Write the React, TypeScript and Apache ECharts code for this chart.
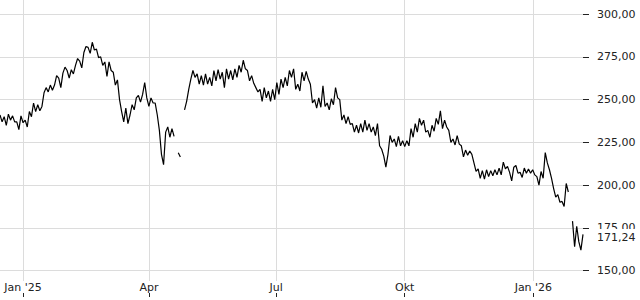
import React, { useEffect, useRef } from "react";
import * as echarts from "echarts";

// Price samples every 36 hours starting 2024-12-15 12:00 (null = break in the line)
const START = Date.UTC(2024, 11, 15, 12);
const STEP_MS = 36 * 3600 * 1000;
const prices: (number | null)[] = [
  241, 237, 240, 235, 241.5, 238, 240.5, 237, 237, 232.5,
  240.5, 236.5, 238, 234, 243, 240, 248, 243, 247, 243.5,
  246, 254, 257, 254.5, 258.5, 255.5, 258.5, 264, 262.5, 257,
  265.5, 269, 267, 262.5, 267.5, 265, 270, 274, 272.5, 268.5,
  277.5, 281, 280.5, 277, 283.5, 279, 279.5, 274.5, 275, 270,
  272, 263.5, 272, 267, 266, 258.5, 261.5, 250, 243, 237,
  245, 236, 241, 247, 244, 251, 252.5, 248.5, 253, 260,
  251, 246, 251, 248, 248, 241, 232, 218, 212, 231,
  234, 228, 233, 228.5, null, 219, 216.5, null, 244, 249,
  256, 262, 267, 263, 265, 259, 264, 258.5, 265, 259,
  263, 258, 267, 261, 267.5, 262, 266, 257, 268, 262,
  267, 261.5, 268, 263, 270, 266, 273, 268, 267, 261,
  264, 259.5, 257, 254.5, 256, 249, 257, 251, 255, 249,
  256, 250, 260, 253, 262, 257, 263, 258, 267, 263,
  268, 256, 259, 255, 266, 261, 266.5, 262, 259, 248,
  250, 245, 251, 245.5, 258, 246, 248, 244, 250.5, 247,
  257, 251, 250, 238, 241, 236, 240, 235.5, 236, 231,
  235, 230.5, 236, 231, 238, 232, 236, 231, 234, 229,
  236, 223, 221, 217, 210.5, 218, 229, 225, 227, 222.5,
  228.5, 223, 226, 222.5, 226, 223, 233, 228, 236, 231,
  239, 235, 238, 231, 232, 228, 235, 231.5, 239, 235.5,
  243.5, 233, 238, 234, 232, 225, 227, 223.5, 229, 224,
  223, 216.5, 220.5, 217.5, 220, 218, 213, 208, 209.5, 204,
  208.5, 203.5, 209, 205, 208.5, 205.5, 209, 206, 210, 206,
  213.5, 209.5, 211, 207.5, 202.5, 210.5, 211.5, 207, 207.5, 204.5,
  210, 207, 209.5, 207, 209, 206, 205, 200, 208, 204,
  219, 213, 209, 204, 198, 193, 194.5, 190, 190.5, 187.5,
  201, 196, null, 179, 164, 176, 167, 162, 171.24,
];

const quarterDates = [
  Date.UTC(2025, 0, 1),
  Date.UTC(2025, 3, 1),
  Date.UTC(2025, 6, 1),
  Date.UTC(2025, 9, 1),
  Date.UTC(2026, 0, 1),
];
const quarterLabels = ["Jan '25", "Apr", "Jul", "Okt", "Jan '26"];
const yTicks = [150, 175, 200, 225, 250, 275, 300];
const lastValue = 171.24;

const fmt = (v: number) => v.toFixed(2).replace(".", ",");

export default function App() {
  const ref = useRef<HTMLDivElement>(null);

  useEffect(() => {
    if (!ref.current) return;
    const chart = echarts.init(ref.current, null, { renderer: "svg" });
    const seriesData = prices.map((v, i) => [START + i * STEP_MS, v === null ? "-" : v]);
    const xMin = START;
    const xMax = START + (prices.length - 1) * STEP_MS;
    const font = "DejaVu Sans";
    chart.setOption({
      animation: false,
      grid: { left: 0, right: 57, top: 0, bottom: 19, outerBoundsMode: "none" },
      xAxis: [
        {
          type: "value",
          min: xMin,
          max: xMax,
          axisLine: { show: false },
          axisTick: { show: false, customValues: quarterDates },
          axisLabel: {
            customValues: quarterDates,
            formatter: (val: number) => {
              const idx = quarterDates.findIndex((d) => Math.abs(d - val) < 3600000);
              return idx >= 0 ? quarterLabels[idx] : "";
            },
            margin: 1,
            color: "#222",
            fontSize: 11,
            fontFamily: font,
          },
          splitLine: { show: true, lineStyle: { color: "#dcdcdc", width: 1 } },
        },
        {
          type: "value",
          min: xMin,
          max: xMax,
          position: "bottom",
          offset: 12,
          axisLine: { show: false },
          axisTick: { show: true, length: 4, customValues: quarterDates, lineStyle: { color: "#222" } },
          axisLabel: { show: false },
          splitLine: { show: false },
        },
      ],
      yAxis: {
        type: "value",
        position: "right",
        z: 0,
        min: 144,
        max: 308.2,
        axisLine: { show: false },
        axisTick: { show: true, length: 6, customValues: yTicks, lineStyle: { color: "#222" } },
        axisLabel: {
          customValues: yTicks,
          formatter: (v: number) => fmt(v),
          margin: 14,
          color: "#222",
          fontSize: 11,
          fontFamily: font,
        },
        splitLine: { show: true, lineStyle: { color: "#dcdcdc", width: 1 } },
      },
      series: [
        {
          type: "line",
          xAxisIndex: 0,
          z: 10,
          data: seriesData,
          showSymbol: false,
          connectNulls: false,
          lineStyle: { color: "#000", width: 1.2 },
          itemStyle: { color: "#000" },
          emphasis: { disabled: true },
          markLine: {
            silent: true,
            z: 50,
            symbol: "none",
            lineStyle: { color: "rgba(0,0,0,0)", width: 1, type: "solid" },
            data: [{ yAxis: lastValue }],
            label: {
              show: true,
              position: "end",
              distance: 13,
              formatter: fmt(lastValue),
              color: "#222",
              fontSize: 11,
              fontFamily: font,
              backgroundColor: "#fff",
              padding: [4, 4, 2, 1],
              offset: [0, 3],
            },
          },
        },
      ],
    });
    return () => chart.dispose();
  }, []);

  return (
    <div
      ref={ref}
      style={{ position: "absolute", left: 0, top: 0, width: 640, height: 300 }}
    />
  );
}
